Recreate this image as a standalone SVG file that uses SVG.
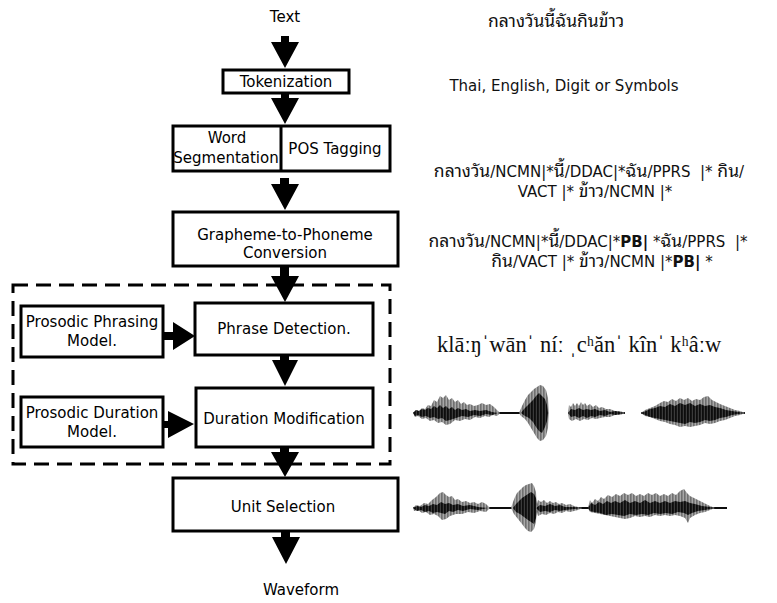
<svg xmlns="http://www.w3.org/2000/svg" width="777" height="603" viewBox="0 0 777 603">
<style>
.box{fill:#fff;stroke:#000;stroke-width:3}
.t{font-family:"DejaVu Sans","Noto Sans Thai Looped","Loma","Garuda","Noto Sans Thai",sans-serif;font-size:15px;fill:#000;text-anchor:middle}
.ann{font-family:"DejaVu Sans","Noto Sans Thai Looped","Loma","Garuda","Noto Sans Thai",sans-serif;font-size:15px;fill:#111;text-anchor:middle;white-space:pre}
.th{font-size:17.5px}
.ipa{font-family:"Liberation Serif","DejaVu Serif",serif;font-size:22.5px;fill:#111}
.arr{fill:#000}
.outer{fill:url(#stripeLight)}
.inner{fill:url(#stripeDark)}
.base{stroke:#111;stroke-width:2;fill:none}
</style>
<defs>
<pattern id="stripeLight" patternUnits="userSpaceOnUse" width="3" height="10">
<rect width="3" height="10" fill="#a8a8a8"/><rect width="1.6" height="10" fill="#707070"/>
</pattern>
<pattern id="stripeDark" patternUnits="userSpaceOnUse" width="3" height="10">
<rect width="3" height="10" fill="#3a3a3a"/><rect width="1.8" height="10" fill="#0d0d0d"/>
</pattern>
<filter id="soft" x="-5%" y="-20%" width="110%" height="140%"><feGaussianBlur stdDeviation="0.5"/></filter>
</defs>

<g id="input-text"><text class="t" x="285" y="22">Text</text></g>

<g id="tokenization"><rect class="box" x="223" y="70" width="126" height="23"/><text class="t" x="286" y="87">Tokenization</text></g>

<g id="word-seg-pos">
<rect class="box" x="173" y="126" width="217" height="45"/>
<line x1="281" y1="126" x2="281" y2="171" stroke="#000" stroke-width="3"/>
<text class="t" x="227" y="143">Word</text>
<text class="t" x="226" y="163">Segmentation</text>
<text class="t" x="335" y="154">POS Tagging</text>
</g>

<g id="g2p"><rect class="box" x="173" y="212" width="225" height="54"/>
<text class="t" x="285" y="240">Grapheme-to-Phoneme</text>
<text class="t" x="285" y="258">Conversion</text></g>

<g id="prosody-block"><rect x="13" y="285" width="377" height="179" fill="none" stroke="#000" stroke-width="3" stroke-dasharray="15 8"/></g>

<g id="phrasing-model"><rect class="box" x="21" y="306" width="142" height="51"/>
<text class="t" x="92" y="327">Prosodic Phrasing</text>
<text class="t" x="92" y="346">Model.</text></g>

<g id="phrase-detection"><rect class="box" x="195" y="303" width="178" height="52"/>
<text class="t" x="284" y="334">Phrase Detection.</text></g>

<g id="duration-model"><rect class="box" x="21" y="397" width="142" height="50"/>
<text class="t" x="92" y="418">Prosodic Duration</text>
<text class="t" x="92" y="437">Model.</text></g>

<g id="duration-modification"><rect class="box" x="196" y="388" width="177" height="59"/>
<text class="t" x="284" y="424">Duration Modification</text></g>

<g id="unit-selection"><rect class="box" x="173" y="478" width="225" height="53"/>
<text class="t" x="283" y="512">Unit Selection</text></g>

<g id="waveform-label"><text class="t" x="301" y="595">Waveform</text></g>

<g id="connectors">
<path class="arr" d="M281,36 H289 V42 H299 L285,68 L271,42 H281 Z"/>
<path class="arr" d="M281,93 H289 V98 H299 L285,124 L271,98 H281 Z"/>
<path class="arr" d="M280,178 H289 V184 H299 L285,210 L271,184 H280 Z"/>
<path class="arr" d="M280,266 H289 V276 H299 L285,302 L271,276 H280 Z"/>
<path class="arr" d="M280,355 H289 V360 H298 L285,386 L272,360 H280 Z"/>
<path class="arr" d="M280,447 H289 V452 H299 L285,477 L271,452 H280 Z"/>
<path class="arr" d="M281,531 H290 V537 H300 L286,564 L272,537 H281 Z"/>
<path class="arr" d="M163,332 H173 V322 L195,336 L173,350 V340 H163 Z"/>
<path class="arr" d="M163,421 H168 V411 L194,424 L168,438 V428 H163 Z"/>
</g>

<g id="annotations">
<text class="ann" x="556" y="27"><tspan class="th">กลางวันนี้ฉันกินข้าว</tspan></text>
<text class="ann" x="564" y="91">Thai, English, Digit or Symbols</text>
<text class="ann" x="589" y="177"><tspan class="th">กลางวัน</tspan>/NCMN|*<tspan class="th">นี้</tspan>/DDAC|*<tspan class="th">ฉัน</tspan>/PPRS  |* <tspan class="th">กิน</tspan>/</text>
<text class="ann" x="595" y="197">VACT |* <tspan class="th">ข้าว</tspan>/NCMN |*</text>
<text class="ann" x="588" y="247"><tspan class="th">กลางวัน</tspan>/NCMN|*<tspan class="th">นี้</tspan>/DDAC|*<tspan font-weight="bold">PB|</tspan> *<tspan class="th">ฉัน</tspan>/PPRS  |*</text>
<text class="ann" x="602" y="267"><tspan class="th">กิน</tspan>/VACT |* <tspan class="th">ข้าว</tspan>/NCMN |*<tspan font-weight="bold">PB|</tspan> *</text>
<text class="ipa" x="437" y="352">klāːŋˈwānˈ níː ˌcʰănˈ kînˈ kʰâːw</text>
</g>

<g id="waveform1" filter="url(#soft)">
<path class="base" d="M413,413 H549 M568,413 H625 M641,413 H745"/>
<path class="outer" d="M413,413 L416,410 L419,411 L422,408 L425,409 L428,405 L431,406 L434,400 L437,402 L440,396 L443,398 L446,395 L449,400 L452,398 L455,402 L458,400 L461,404 L464,402 L467,405 L470,404 L474,406 L478,405 L482,403 L486,405 L490,404 L494,407 L497,410 L500,413 L497,416 L493,415 L489,417 L485,416 L480,418 L475,417 L470,420 L465,419 L460,421 L455,420 L450,424 L446,425 L442,422 L438,423 L434,420 L430,421 L426,418 L422,419 L418,416 L415,417 Z"/>
<path class="inner" d="M413,413 L416,410 L419,411 L422,409 L425,410 L428,408 L431,409 L434,406 L437,408 L440,405 L443,408 L446,406 L449,409 L452,407 L455,410 L458,408 L462,410 L466,409 L470,411 L475,410 L480,411 L486,410 L492,412 L498,413 L492,415 L486,414 L480,416 L474,415 L468,417 L462,416 L456,418 L450,420 L446,421 L442,418 L438,419 L434,417 L430,418 L426,416 L422,417 L418,415 L415,416 Z"/>
<path class="outer" d="M519,413 L522,406 L525,400 L528,395 L531,392 L534,389 L537,387 L540,385 L543,386 L546,390 L548,398 L549,413 L548,428 L546,436 L543,440 L540,441 L537,438 L534,433 L531,428 L528,423 L525,419 L521,416 Z"/>
<path class="inner" d="M521,413 L524,409 L527,406 L530,403 L533,400 L536,396 L539,393 L542,396 L545,399 L547,405 L548,413 L547,421 L545,427 L542,433 L539,431 L536,427 L533,422 L529,418 L525,416 Z"/>
<path class="outer" d="M568,413 L569,405 L571,407 L573,403 L575,406 L577,403 L579,406 L581,402 L583,405 L585,403 L587,406 L590,404 L593,407 L596,405 L599,408 L602,407 L606,409 L610,409 L615,411 L620,411 L625,413 L620,415 L615,415 L610,417 L605,417 L600,418 L596,419 L592,418 L588,420 L584,419 L580,421 L576,419 L572,421 L569,419 Z"/>
<path class="inner" d="M568,413 L571,409 L575,410 L579,408 L583,410 L587,409 L591,410 L595,409 L600,411 L605,410 L610,412 L615,411 L625,413 L615,415 L610,414 L605,416 L600,415 L595,417 L591,416 L587,418 L583,416 L579,418 L575,416 L571,417 Z"/>
<path class="outer" d="M641,413 L645,410 L650,408 L655,406 L660,403 L664,401 L668,402 L672,399 L676,401 L680,398 L684,400 L688,398 L692,401 L696,399 L700,400 L704,397 L708,396 L712,400 L716,402 L720,404 L725,406 L730,408 L735,410 L740,411 L745,413 L740,415 L735,416 L730,418 L725,420 L720,421 L715,423 L710,424 L705,423 L700,425 L695,426 L690,427 L685,426 L680,427 L675,425 L670,424 L665,422 L660,421 L655,419 L650,417 L645,416 Z"/>
<path class="inner" d="M641,413 L646,411 L650,409 L655,408 L660,406 L665,407 L670,404 L675,406 L680,403 L685,405 L690,403 L695,406 L700,404 L705,406 L710,405 L715,407 L720,408 L726,410 L732,411 L745,413 L732,415 L726,417 L720,418 L715,420 L710,421 L705,420 L700,422 L695,423 L690,422 L685,424 L680,423 L675,422 L670,421 L665,420 L660,419 L655,418 L650,417 L645,415 Z"/>
</g>

<g id="waveform2" filter="url(#soft)">
<path class="base" d="M413,508 H727"/>
<path class="outer" d="M413,508 L416,505 L420,506 L424,503 L428,504 L432,500 L436,497 L440,493 L443,492 L446,495 L449,497 L452,496 L455,500 L458,499 L462,502 L466,501 L470,503 L474,502 L478,504 L482,502 L486,504 L490,508 L486,512 L480,511 L474,513 L468,512 L462,514 L456,514 L450,516 L446,519 L442,520 L438,516 L434,514 L430,515 L426,512 L422,513 L418,510 L414,511 Z"/>
<path class="inner" d="M413,508 L417,506 L421,507 L425,505 L429,506 L433,504 L437,505 L441,502 L445,504 L449,503 L453,505 L458,504 L463,506 L470,505 L478,507 L488,508 L478,510 L470,509 L463,511 L458,510 L453,512 L449,511 L445,514 L441,513 L437,512 L433,513 L429,511 L425,512 L421,510 L417,511 Z"/>
<path class="outer" d="M511,508 L513,502 L515,497 L517,493 L520,490 L523,487 L526,485 L529,484 L532,483 L534,486 L536,492 L537,508 L536,522 L534,529 L531,532 L528,531 L525,528 L522,524 L518,519 L514,514 Z"/>
<path class="inner" d="M513,508 L516,504 L519,501 L522,498 L525,496 L528,494 L531,492 L534,494 L536,498 L537,508 L536,518 L534,524 L531,522 L528,520 L524,517 L520,514 L516,512 Z"/>
<path class="outer" d="M536,508 L538,500 L541,502 L544,500 L547,503 L550,501 L553,503 L556,502 L559,504 L562,503 L566,505 L570,504 L574,506 L578,507 L582,508 L578,510 L574,511 L570,512 L566,511 L562,513 L558,512 L554,514 L550,513 L546,515 L542,514 L538,516 Z"/>
<path class="inner" d="M536,508 L540,505 L545,506 L550,504 L555,506 L560,505 L565,507 L575,507 L582,508 L575,509 L565,510 L560,511 L555,510 L550,512 L545,511 L540,512 Z"/>
<path class="outer" d="M588,508 L590,500 L592,503 L595,499 L598,501 L601,497 L604,499 L608,495 L612,497 L616,494 L620,496 L624,493 L628,495 L632,493 L636,496 L640,494 L644,496 L648,493 L652,495 L656,493 L660,496 L664,494 L668,496 L672,493 L676,495 L680,491 L684,489 L687,493 L690,496 L694,498 L698,500 L702,502 L706,504 L710,506 L715,508 L710,510 L705,512 L700,513 L695,515 L690,518 L688,523 L685,518 L680,516 L675,515 L670,516 L665,515 L660,516 L655,515 L650,517 L645,516 L640,517 L635,516 L630,518 L625,519 L620,518 L615,517 L610,516 L605,515 L600,514 L595,513 L590,512 Z"/>
<path class="inner" d="M588,508 L591,503 L595,505 L599,502 L603,504 L607,501 L611,503 L615,501 L620,503 L625,500 L630,503 L635,501 L640,503 L645,500 L650,503 L655,501 L660,503 L665,501 L670,503 L675,501 L680,502 L685,501 L690,503 L695,504 L702,506 L710,507 L715,508 L705,510 L698,511 L692,513 L688,515 L684,513 L678,512 L672,514 L666,513 L660,514 L654,513 L648,515 L642,514 L636,515 L630,514 L624,516 L618,515 L612,514 L606,515 L600,513 L594,512 L590,511 Z"/>
</g>
</svg>
